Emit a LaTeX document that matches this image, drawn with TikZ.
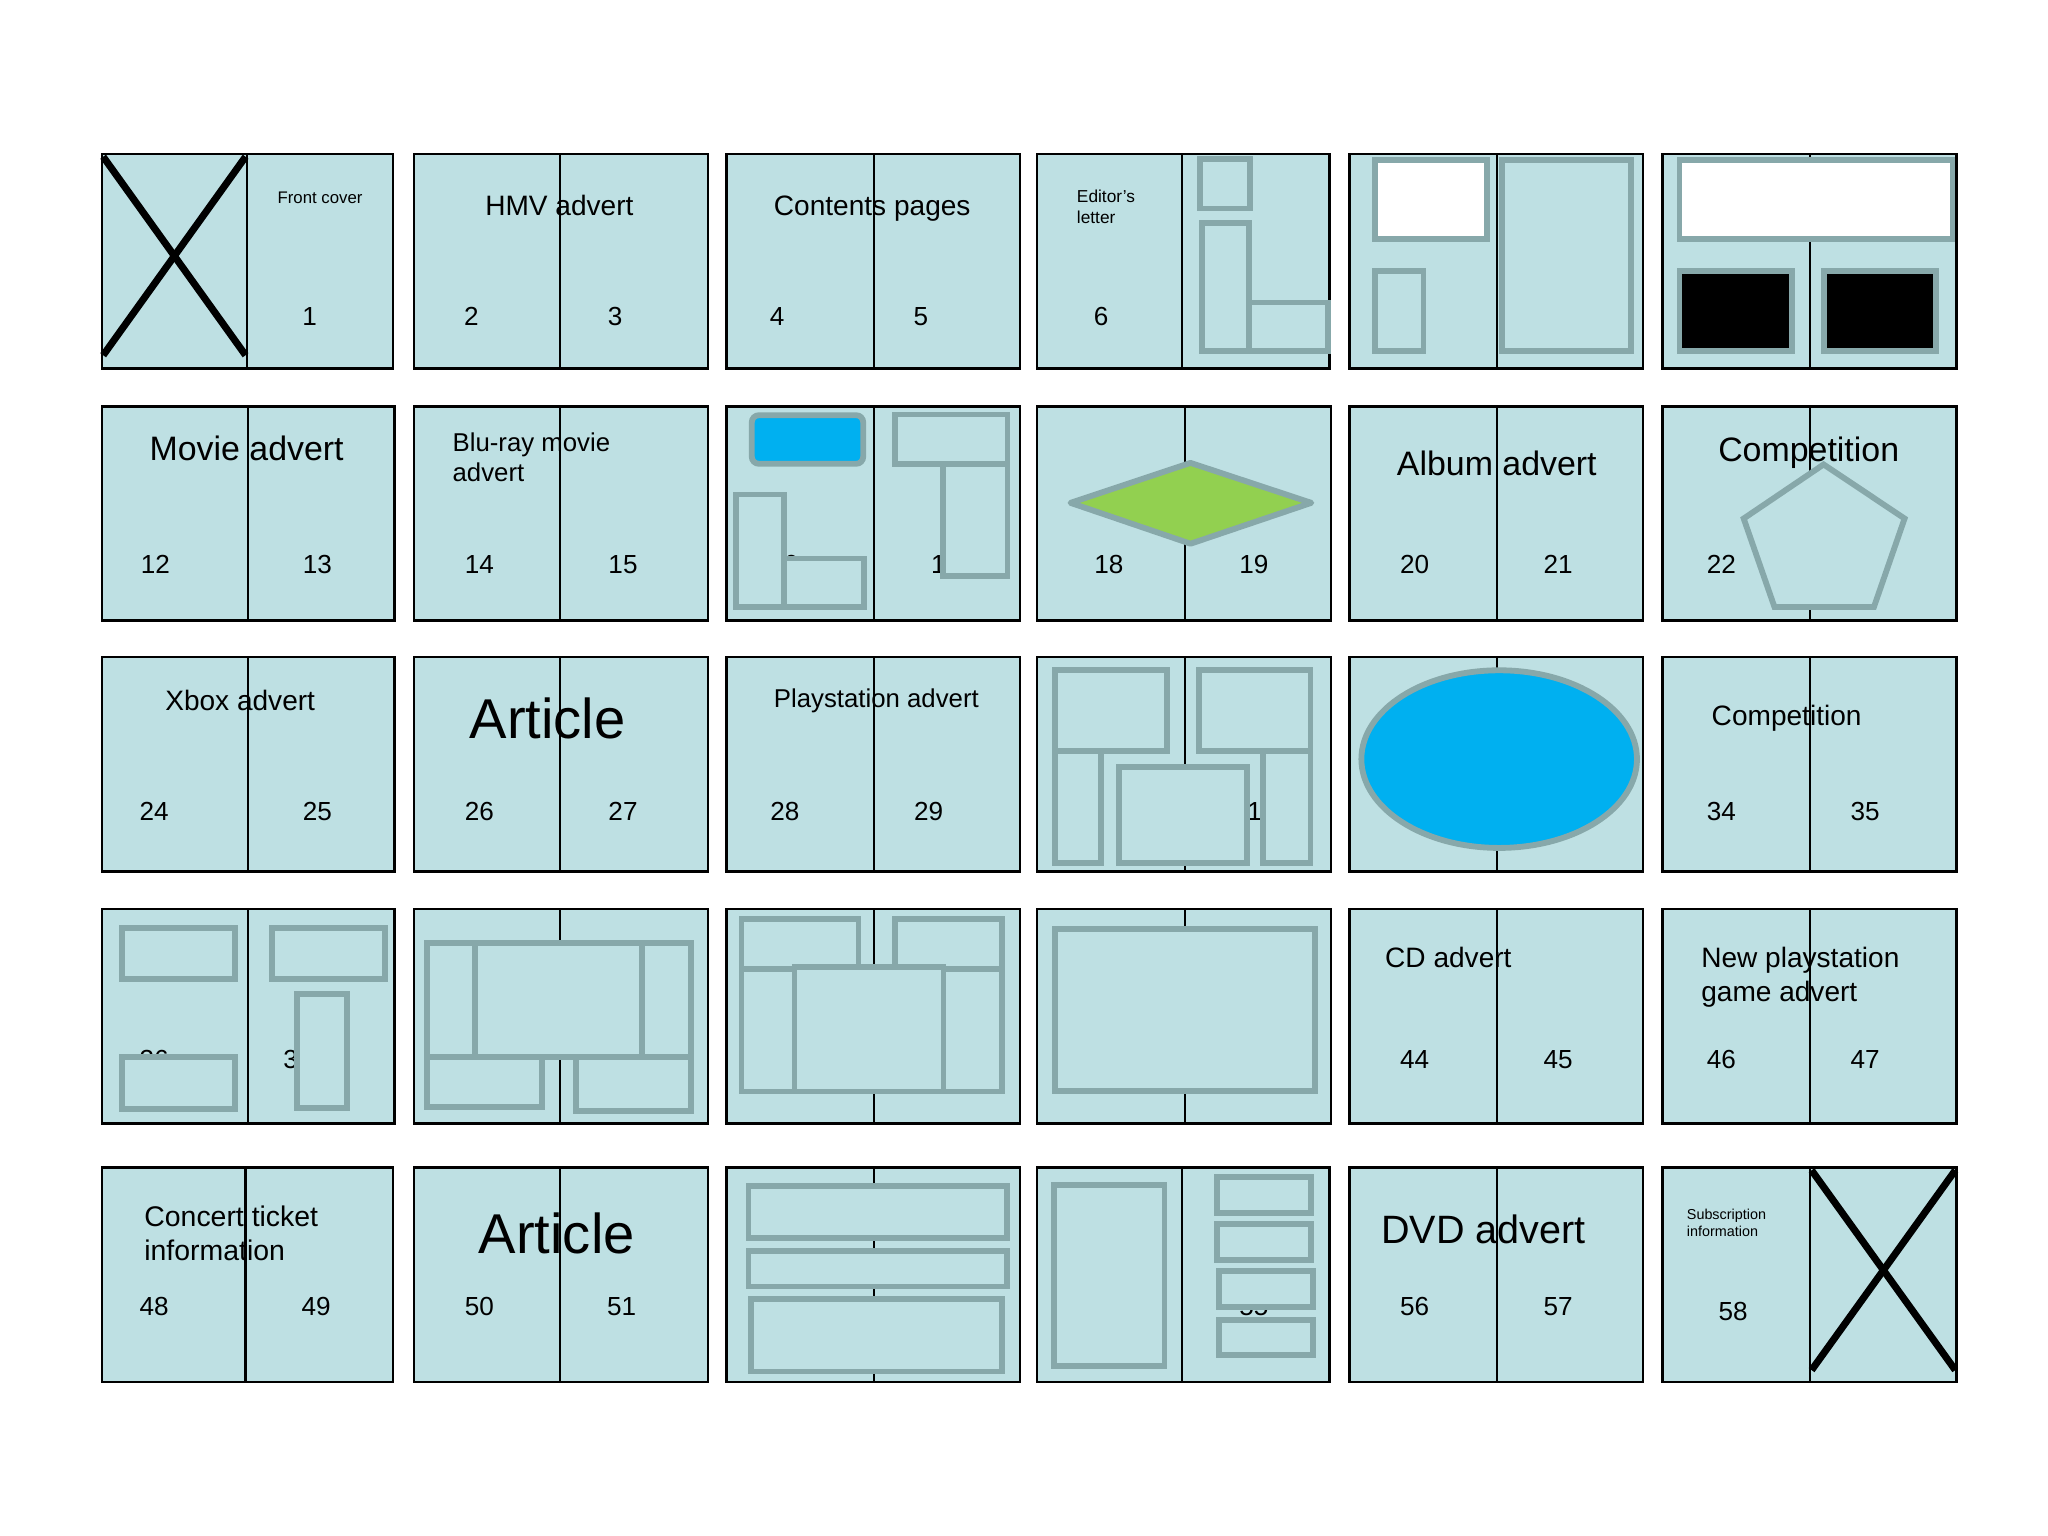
\documentclass[tikz,border=0pt]{standalone}
\usepackage{fontspec}
\setmainfont{Liberation Sans}
\definecolor{pagebg}{RGB}{190,224,227}
\definecolor{boxgray}{RGB}{135,168,170}
\definecolor{skyblue}{RGB}{0,176,240}
\definecolor{lgreen}{RGB}{146,208,80}
\newcommand\fsz[1]{\fontsize{#1}{#1}\selectfont}
\newcommand\mkspread[5]{\draw[page] (#1,#2) rectangle (#4,#5); \draw[spine] (#3,#2) -- (#3,#5);}
\tikzset{
  page/.style={draw=black, line width=0.75pt, fill=pagebg},
  spine/.style={draw=black, line width=0.6pt},
  box/.style={draw=boxgray, line width=1.65pt, fill=pagebg},
  boxline/.style={draw=boxgray, line width=1.65pt},
  cross/.style={draw=black, line width=2pt},
  ttl/.style={inner sep=0pt, anchor=base west},
  num/.style={inner sep=0pt, anchor=base, font=\fsz{7.4}},
}
\begin{document}
\begin{tikzpicture}[x=0.013cm,y=-0.013cm]
\useasboundingbox[fill=white] (0,0) rectangle (1568,1176);

% ---------------- Row 1 ----------------
\mkspread{78}{118}{189}{301}{282}
\draw[cross] (79,120) -- (188,272);
\draw[cross] (188,120) -- (79,272);
\node[ttl, font=\fsz{4.75}] (t1) at (212,155.6) {Front cover};
\node[num] (n1) at (237,249.2) {1};

\mkspread{317}{118}{429}{542}{282}
\node[ttl, font=\fsz{7.95}] (t2) at (371,164.7) {HMV advert};
\node[num] (n2) at (361,249.2) {2};
\node[num] (n3) at (471,249.2) {3};

\mkspread{556}{118}{669}{781}{282}
\node[ttl, font=\fsz{7.95}] (t3) at (592,164.7) {Contents pages};
\node[num] (n4) at (595,249.2) {4};
\node[num] (n5) at (705,249.2) {5};

\mkspread{794}{118}{905}{1018}{282}
\node[ttl, font=\fsz{4.9}] (t4a) at (824,154.8) {Editor's};
\node[ttl, font=\fsz{4.9}] (t4b) at (824,170.8) {letter};
\node[num] (n6) at (843,249.2) {6};
\draw[box] (918.5,121.6) rectangle (956.8,159.7);
\draw[box] (920,170.6) rectangle (956,268.5);
\draw[box] (956,231.6) rectangle (1017,268.5);

\mkspread{1033}{118}{1146}{1258}{282}
\draw[box, fill=white] (1052.7,122.3) rectangle (1138.3,183.3);
\draw[box] (1052.7,207.5) rectangle (1089.9,268.5);
\draw[box] (1150,122.3) rectangle (1249,268.5);

\mkspread{1273}{118}{1386}{1498}{282}
\draw[box, fill=white] (1285.8,122.3) rectangle (1494.9,183.3);
\draw[box, fill=black] (1285.8,207.5) rectangle (1372,268.5);
\draw[box, fill=black] (1396.8,207.5) rectangle (1482.3,268.5);

% ---------------- Row 2 ----------------
\mkspread{78}{311}{190}{302}{475}
\node[ttl, font=\fsz{9.6}] (t12) at (114,352.4) {Movie advert};
\node[num] (n12) at (119,439.2) {12};
\node[num] (n13) at (243,439.2) {13};

\mkspread{317}{311}{429}{542}{475}
\node[ttl, font=\fsz{7.3}] (t14a) at (346,346) {Blu-ray movie};
\node[ttl, font=\fsz{7.3}] (t14b) at (346,369) {advert};
\node[num] (n14) at (367,439.2) {14};
\node[num] (n15) at (477,439.2) {15};

\mkspread{556}{311}{669}{781}{475}
\node[num] (n16) at (600,439.2) {16};
\node[num] (n17) at (724,439.2) {17};
\draw[box, fill=skyblue, rounded corners=2pt] (575.6,317.9) rectangle (660.9,355.1);
\draw[box] (563.8,378.6) rectangle (600.2,464.8);
\draw[box] (600.2,427.6) rectangle (661.8,464.8);
\draw[box] (685.1,317.4) rectangle (771.3,355.1);
\draw[box] (721.9,355.1) rectangle (771.3,441);

\mkspread{794}{311}{907}{1019}{475}
\node[num] (n18) at (849,439.2) {18};
\node[num] (n19) at (960,439.2) {19};
\draw[box, fill=lgreen, line join=round] (819.6,385) -- (911.5,354.4) -- (1004,385) -- (911.5,416.3) -- cycle;

\mkspread{1033}{311}{1146}{1258}{475}
\node[ttl, font=\fsz{9.6}] (t20) at (1069,364.4) {Album advert};
\node[num] (n20) at (1083,439.2) {20};
\node[num] (n21) at (1193,439.2) {21};

\mkspread{1273}{311}{1386}{1498}{475}
\node[ttl, font=\fsz{9.6}] (t22) at (1315,353.4) {Competition};
\node[num] (n22) at (1318,439.2) {22};
\draw[box] (1396.2,355.6) -- (1458.2,397) -- (1434.7,464.8) -- (1358.6,464.8) -- (1335,397) -- cycle;

% ---------------- Row 3 ----------------
\mkspread{78}{503}{190}{302}{667}
\node[ttl, font=\fsz{7.95}] (t24) at (126,543.7) {Xbox advert};
\node[num] (n24) at (118,628.2) {24};
\node[num] (n25) at (243,628.2) {25};

\mkspread{317}{503}{429}{542}{667}
\node[ttl, font=\fsz{15.9}] (t26) at (359,565.5) {Article};
\node[num] (n26) at (367,628.2) {26};
\node[num] (n27) at (477,628.2) {27};

\mkspread{556}{503}{669}{781}{667}
\node[ttl, font=\fsz{7.3}] (t28) at (592,542) {Playstation advert};
\node[num] (n28) at (601,628.2) {28};
\node[num] (n29) at (711,628.2) {29};

\mkspread{794}{503}{907}{1019}{667}
\node[num] (n31) at (955,628.2) {31};
\draw[box] (807.7,513.2) rectangle (893.7,574.8);
\draw[box] (917.7,513.2) rectangle (1003.4,574.8);
\draw[box] (807.7,574.8) rectangle (842.9,660.6);
\draw[box] (967,574.8) rectangle (1003.4,660.6);
\draw[box] (857,587) rectangle (954.5,660.6);

\mkspread{1033}{503}{1146}{1258}{667}
\draw[box, fill=skyblue] (1147.8,581.2) ellipse [x radius=105.5, y radius=68];

\mkspread{1273}{503}{1386}{1498}{667}
\node[ttl, font=\fsz{7.95}] (t34) at (1310,555.7) {Competition};
\node[num] (n34) at (1318,628.2) {34};
\node[num] (n35) at (1428,628.2) {35};

% ---------------- Row 4 ----------------
\mkspread{78}{696}{190}{302}{860}
\node[num] (n36) at (118,818.2) {36};
\node[num] (n37) at (228,818.2) {37};
\draw[box] (93.6,710.6) rectangle (179.8,749.4);
\draw[box] (93.6,809.4) rectangle (179.8,849);
\draw[box] (208,710.6) rectangle (294.7,749.4);
\draw[box] (227.5,761.1) rectangle (265.5,848.5);

\mkspread{317}{696}{429}{542}{860}
\draw[box] (326.8,722) rectangle (529.3,809.4);
\draw[boxline] (363.5,722) -- (363.5,809.4);
\draw[boxline] (491.6,722) -- (491.6,809.4);
\draw[box] (326.8,809.4) rectangle (414.8,847.7);
\draw[box] (441.2,809.4) rectangle (529.3,850.5);

\mkspread{556}{696}{669}{781}{860}
\draw[box] (567.7,703.7) rectangle (657.3,742);
\draw[box] (685.1,703.7) rectangle (767.3,742);
\draw[box] (567.7,742) rectangle (767.3,835.7);
\draw[box] (608.3,740.5) rectangle (722.3,835.7);

\mkspread{794}{696}{907}{1019}{860}
\draw[box] (808,711) rectangle (1007,835);

\mkspread{1033}{696}{1146}{1258}{860}
\node[ttl, font=\fsz{7.95}] (t44) at (1060,740.7) {CD advert};
\node[num] (n44) at (1083,818.2) {44};
\node[num] (n45) at (1193,818.2) {45};

\mkspread{1273}{696}{1386}{1498}{860}
\node[ttl, font=\fsz{7.95}] (t46a) at (1302,740.7) {New playstation};
\node[ttl, font=\fsz{7.95}] (t46b) at (1302,766.7) {game advert};
\node[num] (n46) at (1318,818.2) {46};
\node[num] (n47) at (1428,818.2) {47};

% ---------------- Row 5 ----------------
\mkspread{78}{894}{188}{301}{1058}
\node[ttl, font=\fsz{8.05}] (t48a) at (110,938.8) {Concert ticket};
\node[ttl, font=\fsz{8.05}] (t48b) at (110,964.8) {information};
\node[num] (n48) at (118,1007.2) {48};
\node[num] (n49) at (242,1007.2) {49};

\mkspread{317}{894}{429}{542}{1058}
\node[ttl, font=\fsz{15.9}] (t50) at (366,959.5) {Article};
\node[num] (n50) at (367,1007.2) {50};
\node[num] (n51) at (476,1007.2) {51};

\mkspread{556}{894}{669}{781}{1058}
\draw[box] (573,908.3) rectangle (771,947.6);
\draw[box] (573,957.5) rectangle (771,985);
\draw[box] (575,994.6) rectangle (767,1050);

\mkspread{794}{894}{905}{1018}{1058}
\node[num] (n55) at (960,1007.2) {55};
\draw[box] (807.1,907.5) rectangle (891.5,1045.8);
\draw[box] (931.8,901.1) rectangle (1004,928.7);
\draw[box] (931.8,937.4) rectangle (1004,964.4);
\draw[box] (933,973) rectangle (1005,1000.6);
\draw[box] (933,1010.8) rectangle (1005,1037.6);

\mkspread{1033}{894}{1146}{1258}{1058}
\node[ttl, font=\fsz{11.2}] (t56) at (1057,951.9) {DVD advert};
\node[num] (n56) at (1083,1007.2) {56};
\node[num] (n57) at (1193,1007.2) {57};

\mkspread{1273}{894}{1386}{1498}{1058}
\node[ttl, font=\fsz{4.07}] (t58a) at (1291,934) {Subscription};
\node[ttl, font=\fsz{4.07}] (t58b) at (1291,947) {information};
\node[num] (n58) at (1327,1011.2) {58};
\draw[cross] (1387,896) -- (1497,1049);
\draw[cross] (1497,896) -- (1387,1049);
\end{tikzpicture}
\end{document}
